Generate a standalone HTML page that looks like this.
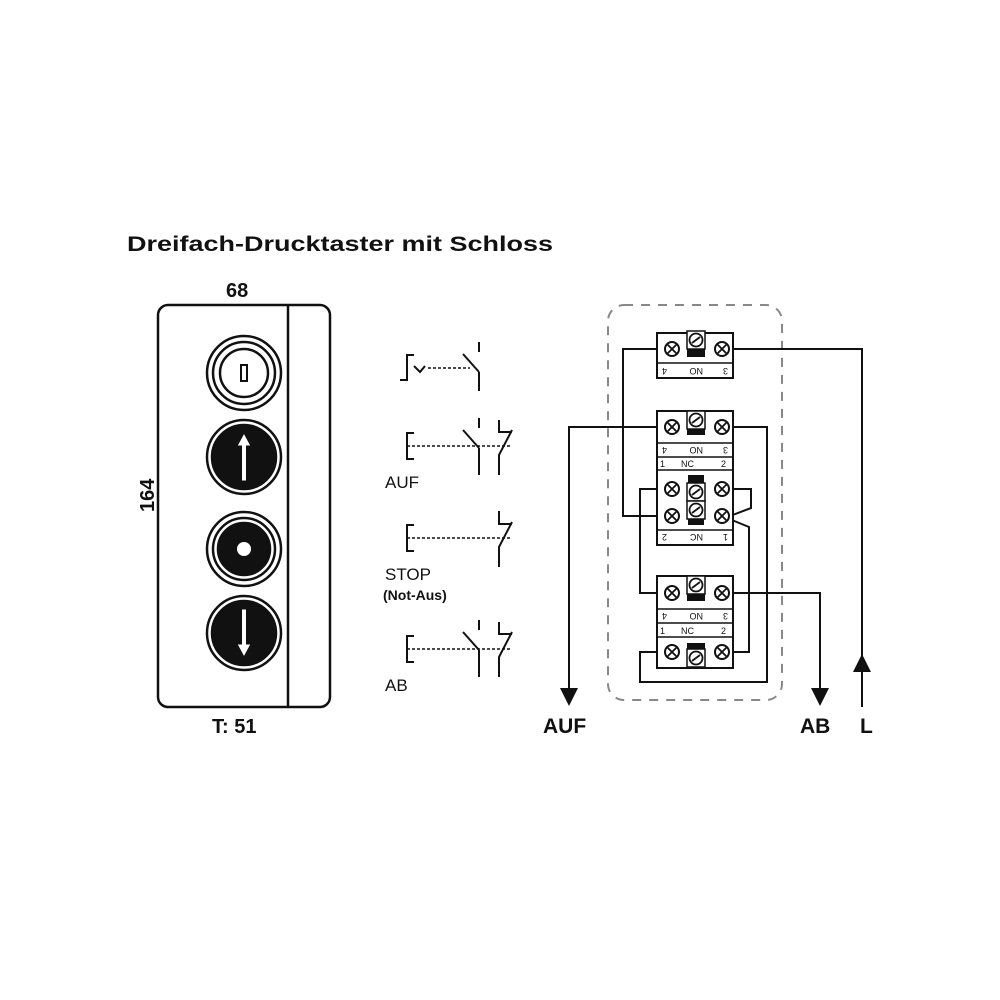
<!DOCTYPE html>
<html><head><meta charset="utf-8"><style>
html,body{margin:0;padding:0;background:#fff;}
svg{display:block;}
text{font-family:"Liberation Sans",Arial,sans-serif;fill:#111;}
</style></head><body>
<svg width="1000" height="1000" viewBox="0 0 1000 1000" xmlns="http://www.w3.org/2000/svg">
<defs>
<g id="sc"><circle r="7" fill="#fff" stroke="#111" stroke-width="2"/><path d="M-4.5,-4.5L4.5,4.5M-4.5,4.5L4.5,-4.5" stroke="#111" stroke-width="1.8"/></g>
<g id="cs"><rect x="-9" y="-9" width="18" height="18" fill="#fff" stroke="#111" stroke-width="1.5"/><circle r="6.5" fill="#fff" stroke="#111" stroke-width="1.8"/><path d="M-4,3L4,-3" stroke="#111" stroke-width="1.8"/></g>
</defs>
<rect width="1000" height="1000" fill="#fff"/>
<text x="127" y="251" font-size="21" font-weight="bold" textLength="426" lengthAdjust="spacingAndGlyphs">Dreifach-Drucktaster mit Schloss</text>

<!-- housing -->
<text x="226" y="297" font-size="20" font-weight="bold">68</text>
<rect x="158" y="305" width="172" height="402" rx="10" fill="none" stroke="#111" stroke-width="2.5"/>
<line x1="288" y1="305" x2="288" y2="707" stroke="#111" stroke-width="2.5"/>
<text x="0" y="0" font-size="20" font-weight="bold" transform="translate(154,512) rotate(-90)">164</text>
<text x="212" y="733" font-size="20" font-weight="bold">T: 51</text>
<!-- buttons -->
<g stroke="#111" stroke-width="2.5" fill="none">
<circle cx="244" cy="373" r="37"/><circle cx="244" cy="373" r="31"/><circle cx="244" cy="373" r="24"/>
<rect x="241" y="365" width="6" height="16" stroke-width="2"/>
<circle cx="244" cy="457" r="37"/><circle cx="244" cy="457" r="32" fill="#111"/>
<circle cx="244" cy="549" r="37"/><circle cx="244" cy="549" r="31"/><circle cx="244" cy="549" r="26" fill="#111"/>
<circle cx="244" cy="633" r="37"/><circle cx="244" cy="633" r="32" fill="#111"/>
</g>
<circle cx="244" cy="549" r="7" fill="#fff"/>
<g fill="#fff" stroke="#111" stroke-width="1">
<path d="M244,433 L251,446 L246.5,446 L246.5,481 L241.5,481 L241.5,446 L237,446 Z"/>
<path d="M244,657 L251,644 L246.5,644 L246.5,609 L241.5,609 L241.5,644 L237,644 Z"/>
</g>

<!-- switch symbols -->
<g stroke="#111" stroke-width="2" fill="none">
<path d="M400,380 L407,380 L407,355 L414,355"/>
<path d="M414,366 L420,372 L425,366"/>
<line x1="428" y1="368" x2="470" y2="368" stroke-dasharray="3,2" stroke-width="1.5"/>
<line x1="479" y1="342" x2="479" y2="352"/><line x1="463" y1="354" x2="479" y2="372"/><line x1="479" y1="372" x2="479" y2="391"/>
<!-- AUF -->
<path d="M414,433 L407,433 L407,459 L414,459"/>
<line x1="407" y1="446" x2="510" y2="446" stroke-dasharray="3,2" stroke-width="1.5"/>
<line x1="479" y1="418" x2="479" y2="428"/><line x1="463" y1="430" x2="479" y2="448"/><line x1="479" y1="448" x2="479" y2="475"/>
<path d="M499,420 L499,432 L512,432"/><path d="M512,430 L499,455 L499,475"/>
<!-- STOP -->
<path d="M414,525 L407,525 L407,551 L414,551"/>
<line x1="407" y1="538" x2="510" y2="538" stroke-dasharray="3,2" stroke-width="1.5"/>
<path d="M499,511 L499,524 L512,524"/><path d="M512,522 L499,547 L499,567"/>
<!-- AB -->
<path d="M414,636 L407,636 L407,662 L414,662"/>
<line x1="407" y1="649" x2="510" y2="649" stroke-dasharray="3,2" stroke-width="1.5"/>
<line x1="479" y1="620" x2="479" y2="630"/><line x1="463" y1="632" x2="479" y2="650"/><line x1="479" y1="650" x2="479" y2="677"/>
<path d="M499,622 L499,634 L512,634"/><path d="M512,632 L499,657 L499,677"/>
</g>
<text x="385" y="488" font-size="17">AUF</text>
<text x="385" y="580" font-size="17">STOP</text>
<text x="383" y="600" font-size="14" font-weight="bold">(Not-Aus)</text>
<text x="385" y="691" font-size="17">AB</text>

<!-- dashed enclosure -->
<rect x="608" y="305" width="174" height="395" rx="16" fill="none" stroke="#888" stroke-width="2" stroke-dasharray="9,8"/>

<!-- wires -->
<g stroke="#111" stroke-width="2" fill="none">
<path d="M672,349 L623,349 L623,516 L672,516"/>
<path d="M722,349 L862,349 L862,707"/>
<path d="M672,427 L569,427 L569,690"/>
<path d="M722,427 L767,427 L767,682 L640,682 L640,652 L672,652"/>
<path d="M672,489 L640,489 L640,593 L672,593"/>
<path d="M722,489 L751,489 L751,508 L730,516"/>
<path d="M722,516 L749,527 L749,652 L722,652"/>
<path d="M722,593 L820,593 L820,690"/>
</g>
<path d="M560,688 L578,688 L569,706 Z" fill="#111"/>
<path d="M811,688 L829,688 L820,706 Z" fill="#111"/>
<path d="M853,672 L871,672 L862,654 Z" fill="#111"/>
<text x="543" y="733" font-size="21" font-weight="bold">AUF</text>
<text x="800" y="733" font-size="21" font-weight="bold">AB</text>
<text x="860" y="733" font-size="21" font-weight="bold">L</text>

<!-- terminal blocks -->
<g stroke="#111" stroke-width="2" fill="#fff">
<rect x="657" y="333" width="76" height="45"/>
<rect x="657" y="411" width="76" height="134"/>
<rect x="657" y="576" width="76" height="92"/>
</g>
<g stroke="#111" stroke-width="1.5">
<line x1="657" y1="363" x2="733" y2="363"/>
<line x1="657" y1="443" x2="733" y2="443"/><line x1="657" y1="457" x2="733" y2="457"/><line x1="657" y1="470" x2="733" y2="470"/>
<line x1="657" y1="530" x2="733" y2="530"/>
<line x1="657" y1="609" x2="733" y2="609"/><line x1="657" y1="623" x2="733" y2="623"/><line x1="657" y1="637" x2="733" y2="637"/>
</g>
<!-- black blocks -->
<g fill="#111">
<rect x="687" y="345" width="18" height="12"/>
<rect x="687" y="423" width="18" height="12"/>
<rect x="688" y="475" width="16" height="50"/>
<rect x="687" y="589" width="18" height="12"/>
<rect x="687" y="643" width="18" height="12"/>
</g>
<use href="#cs" x="696" y="340"/><use href="#cs" x="696" y="420"/>
<use href="#cs" x="696" y="492"/><use href="#cs" x="696" y="510"/>
<use href="#cs" x="696" y="585"/><use href="#cs" x="696" y="658"/>
<use href="#sc" x="672" y="349"/><use href="#sc" x="722" y="349"/>
<use href="#sc" x="672" y="427"/><use href="#sc" x="722" y="427"/>
<use href="#sc" x="672" y="489"/><use href="#sc" x="722" y="489"/>
<use href="#sc" x="672" y="516"/><use href="#sc" x="722" y="516"/>
<use href="#sc" x="672" y="593"/><use href="#sc" x="722" y="593"/>
<use href="#sc" x="672" y="652"/><use href="#sc" x="722" y="652"/>
<g font-size="9">
<text x="0" y="0" transform="translate(667,368) rotate(180)">4</text>
<text x="0" y="0" transform="translate(703,368) rotate(180)">NO</text>
<text x="0" y="0" transform="translate(728,368) rotate(180)">3</text>
<text x="0" y="0" transform="translate(667,447) rotate(180)">4</text>
<text x="0" y="0" transform="translate(703,447) rotate(180)">NO</text>
<text x="0" y="0" transform="translate(728,447) rotate(180)">3</text>
<text x="660" y="467">1</text><text x="681" y="467">NC</text><text x="721" y="467">2</text>
<text x="0" y="0" transform="translate(667,534) rotate(180)">2</text>
<text x="0" y="0" transform="translate(703,534) rotate(180)">NC</text>
<text x="0" y="0" transform="translate(728,534) rotate(180)">1</text>
<text x="0" y="0" transform="translate(667,613) rotate(180)">4</text>
<text x="0" y="0" transform="translate(703,613) rotate(180)">NO</text>
<text x="0" y="0" transform="translate(728,613) rotate(180)">3</text>
<text x="660" y="634">1</text><text x="681" y="634">NC</text><text x="721" y="634">2</text>
</g>
</svg>
</body></html>
